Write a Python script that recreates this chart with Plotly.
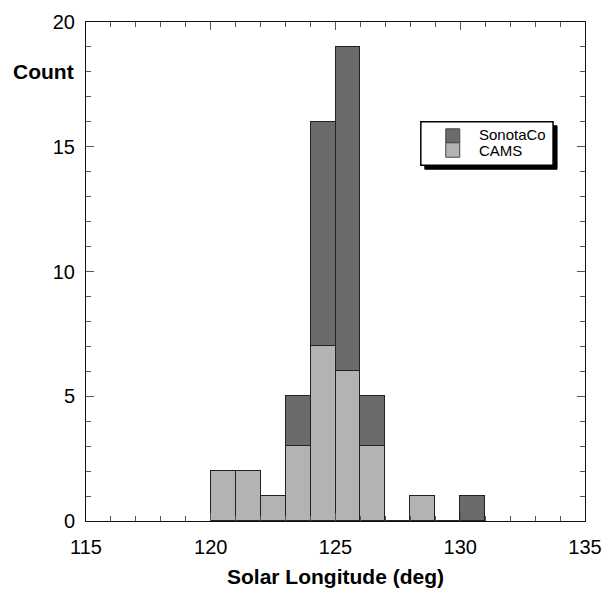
import plotly.graph_objects as go

bin_starts = [120, 121, 122, 123, 124, 125, 126, 127, 128, 129, 130]
cams = [2, 2, 1, 3, 7, 6, 3, 0, 1, 0, 0]
sonotaco = [0, 0, 0, 2, 9, 13, 2, 0, 0, 0, 1]
x_ticks = [115, 120, 125, 130, 135]
y_ticks = [0, 5, 10, 15, 20]

DARK = "#6b6b6b"
LIGHT = "#b3b3b3"
EDGE = "#222"
TICK = "#555"
FONT = "Liberation Sans, Arial, Helvetica, sans-serif"

centers = [b + 0.5 for b in bin_starts]

fig = go.Figure()
fig.add_trace(go.Bar(x=centers, y=cams, width=1, name="CAMS",
                     marker=dict(color=LIGHT, line=dict(color=EDGE, width=1)),
                     showlegend=False))
fig.add_trace(go.Bar(x=centers, y=sonotaco, width=1, name="SonotaCo",
                     marker=dict(color=DARK, line=dict(color=EDGE, width=1)),
                     showlegend=False))

axis_common = dict(
    showline=True, linecolor="#111", linewidth=1, mirror="ticks",
    ticks="inside", ticklen=8, tickcolor=TICK, tickwidth=1,
    showgrid=False, zeroline=False, automargin=False,
    tickfont=dict(family=FONT, size=20, color="black"),
)

fig.update_xaxes(range=[115, 135], tickvals=x_ticks, ticklabelstandoff=8,
                 minor=dict(dtick=1, ticks="inside", ticklen=5, tickcolor=TICK),
                 title=dict(text="<b>Solar Longitude (deg)</b>", standoff=12,
                            font=dict(family=FONT, size=21, color="black")),
                 **axis_common)
fig.update_yaxes(range=[0, 20], tickvals=y_ticks, ticklabelstandoff=6,
                 minor=dict(dtick=1, ticks="inside", ticklen=5, tickcolor=TICK),
                 **axis_common)

# Count label
fig.add_annotation(x=0, xref="paper", xanchor="right", xshift=-10,
                   y=18, yref="y", yanchor="middle", text="<b>Count</b>", showarrow=False,
                   font=dict(family=FONT, size=21, color="black"))

# Manual legend with drop shadow
lx0, lx1, ly0, ly1 = 0.671, 0.936, 0.713, 0.800
sh = 0.008
fig.add_shape(type="rect", xref="paper", yref="paper",
              x0=lx0 + sh, x1=lx1 + sh, y0=ly0 - sh, y1=ly1 - sh,
              fillcolor="black", line=dict(color="black", width=1))
fig.add_shape(type="rect", xref="paper", yref="paper",
              x0=lx0, x1=lx1, y0=ly0, y1=ly1,
              fillcolor="white", line=dict(color="black", width=1.5))
sx0, sx1 = 0.721, 0.749
fig.add_shape(type="rect", xref="paper", yref="paper",
              x0=sx0, x1=sx1, y0=0.758, y1=0.786,
              fillcolor=DARK, line=dict(color="#444", width=1))
fig.add_shape(type="rect", xref="paper", yref="paper",
              x0=sx0, x1=sx1, y0=0.729, y1=0.758,
              fillcolor=LIGHT, line=dict(color="#444", width=1))
fig.add_annotation(x=0.784, xref="paper", xanchor="left", y=0.774, yref="paper",
                   yanchor="middle", text="SonotaCo", showarrow=False,
                   font=dict(family=FONT, size=15, color="black"))
fig.add_annotation(x=0.784, xref="paper", xanchor="left", y=0.742, yref="paper",
                   yanchor="middle", text="CAMS", showarrow=False,
                   font=dict(family=FONT, size=15, color="black"))

fig.update_layout(
    width=607, height=590,
    barmode="stack", bargap=0,
    margin=dict(l=86, r=22, t=22, b=69),
    plot_bgcolor="white", paper_bgcolor="white",
    font=dict(family=FONT, color="black"),
)

fig.write_html("out.html")
